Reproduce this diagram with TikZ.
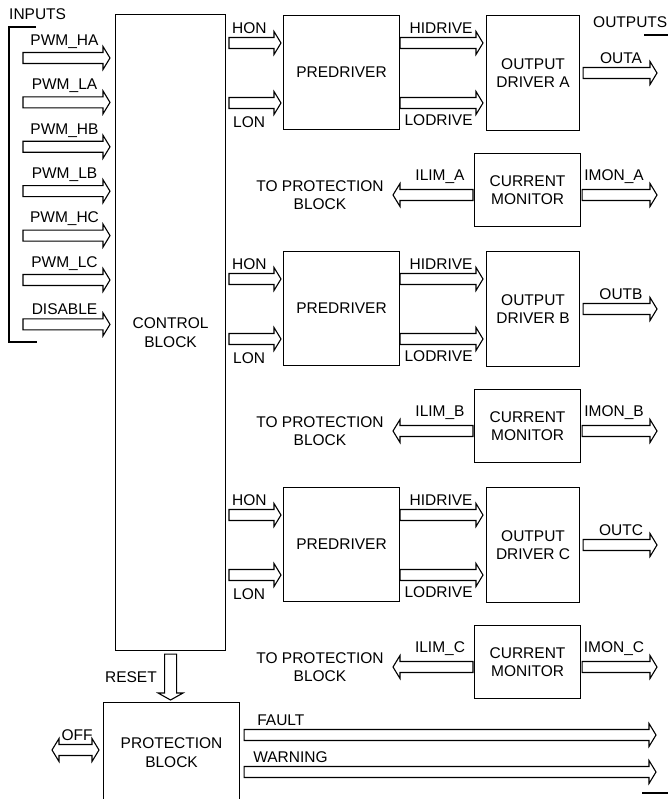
\documentclass[tikz,border=0pt]{standalone}
\usepackage{fontspec}
\setmainfont{Liberation Sans}
\usetikzlibrary{positioning,calc}

% hollow block arrows
\newcommand{\fatright}[2]{%
  \draw[fatline] let \p1=(#1), \p2=(#2) in
    (\x1,\y1+5.5pt) -- (\x2-7pt,\y1+5.5pt) -- (\x2-7pt,\y1+11.5pt) -- (\x2,\y1)
    -- (\x2-7pt,\y1-11.5pt) -- (\x2-7pt,\y1-5.5pt) -- (\x1,\y1-5.5pt) -- cycle;}
\newcommand{\fatleft}[2]{%
  \draw[fatline] let \p1=(#1), \p2=(#2) in
    (\x2,\y1+5.5pt) -- (\x1+7pt,\y1+5.5pt) -- (\x1+7pt,\y1+11.5pt) -- (\x1,\y1)
    -- (\x1+7pt,\y1-11.5pt) -- (\x1+7pt,\y1-5.5pt) -- (\x2,\y1-5.5pt) -- cycle;}
\newcommand{\fatboth}[2]{%
  \draw[fatline] let \p1=(#1), \p2=(#2) in
    (\x1,\y1) -- (\x1+7pt,\y1+11.5pt) -- (\x1+7pt,\y1+5.5pt) -- (\x2-7pt,\y1+5.5pt)
    -- (\x2-7pt,\y1+11.5pt) -- (\x2,\y1) -- (\x2-7pt,\y1-11.5pt) -- (\x2-7pt,\y1-5.5pt)
    -- (\x1+7pt,\y1-5.5pt) -- (\x1+7pt,\y1-11.5pt) -- cycle;}
\newcommand{\fatdown}[2]{%
  \draw[fatline] let \p1=(#1), \p2=(#2) in
    (\x1-6pt,\y1) -- (\x1-6pt,\y2+7pt) -- (\x1-12.5pt,\y2+7pt) -- (\x1,\y2)
    -- (\x1+12.5pt,\y2+7pt) -- (\x1+6pt,\y2+7pt) -- (\x1+6pt,\y1) -- cycle;}

\begin{document}
\begin{tikzpicture}[x=1pt,y=-1pt,
    every node/.style={font=\fontsize{15.5}{18.5}\selectfont},
    blk/.style={draw=black, line width=1.1pt, rectangle, inner sep=0pt, align=center},
    lbl/.style={inner sep=0pt},
    fatline/.style={draw=black, line width=1.1pt, fill=white, line join=miter},
    brk/.style={draw=black, line width=1.1pt}]
    \useasboundingbox (0,0) rectangle (667,799);

    % Control block and inputs
    \node[blk, minimum width=110, minimum height=636, anchor=north west] (ctrl) at (115,14) {CONTROL\\BLOCK};
    \node[lbl, anchor=base west] (inputs) at (9,20) {INPUTS};
    \draw[brk] (36,27) -- (9,27) -- (9,342) -- (37,342);
    \foreach \lbl [count=\i from 0] in {PWM\_HA,PWM\_LA,PWM\_HB,PWM\_LB,PWM\_HC,PWM\_LC,DISABLE} {
        \coordinate (in\i) at (23,{58+44.4*\i});
        \fatright{in\i}{$(ctrl.west|-in\i)+(-5,0)$}
        \node[lbl, above=9.5pt of in\i, xshift=41.5pt] (inl\i) {\lbl};
    }

    % Outputs bracket
    \node[lbl, anchor=base west] (outputs) at (593,28) {OUTPUTS};
    \draw[brk] (644,35) -- (670,35);
    \draw[brk] (642,793) -- (670,793);

    % Three driver channels
    \foreach \s [count=\k from 0] in {A,B,C} {
        \pgfmathsetmacro{\o}{236*\k}
        \node[blk, minimum width=116, minimum height=114, anchor=north west] (pd\s) at (283,{15+\o}) {PREDRIVER};
        \node[blk, minimum width=93, minimum height=115, anchor=north west] (od\s) at (486,{15+\o}) {OUTPUT\\DRIVER \s};
        \node[blk, minimum width=106, minimum height=73, anchor=north west] (cm\s) at (474,{153+\o}) {CURRENT\\MONITOR};

        % control to predriver
        \coordinate (hon\s) at (229,{43+\o});
        \coordinate (lon\s) at (229,{103+\o});
        \fatright{hon\s}{$(pd\s.west|-hon\s)+(-2,0)$}
        \fatright{lon\s}{$(pd\s.west|-lon\s)+(-2,0)$}
        \node[lbl, above right=9.5pt and 3pt of hon\s] (honl\s) {HON};
        \node[lbl, below right=13pt and 4pt of lon\s] (lonl\s) {LON};

        % predriver to output driver
        \coordinate (hid\s) at (pd\s.east|-hon\s);
        \coordinate (lod\s) at (pd\s.east|-lon\s);
        \fatright{hid\s}{$(od\s.west|-hid\s)+(-3,0)$}
        \fatright{lod\s}{$(od\s.west|-lod\s)+(-3,0)$}
        \node[lbl, above=9.5pt of hid\s, xshift=41pt] (hidl\s) {HIDRIVE};
        \node[lbl, below=11pt of lod\s, xshift=38.5pt] (lodl\s) {LODRIVE};

        % output
        \coordinate (out\s) at (657,{73+\o});
        \fatright{$(od\s.east|-out\s)+(3,0)$}{out\s}
        \node[lbl, above=9.5pt of out\s, xshift=-36pt] (outl\s) {OUT\s};

        % current monitor
        \coordinate (ilim\s) at (393,{195+\o});
        \coordinate (imon\s) at (657,{195+\o});
        \fatleft{ilim\s}{$(cm\s.west|-ilim\s)+(-1,0)$}
        \fatright{$(cm\s.east|-imon\s)+(1,0)$}{imon\s}
        \node[lbl, above=11pt of ilim\s, xshift=47pt] (iliml\s) {ILIM\_\s};
        \node[lbl, above=11pt of imon\s, xshift=-43pt] (imonl\s) {IMON\_\s};
        \node[lbl, align=center] (tp\s) at (320,{195+\o}) {TO PROTECTION\\BLOCK};
    }

    % Protection block
    \node[blk, minimum width=136, minimum height=100, anchor=north west] (prot) at (103,702) {PROTECTION\\BLOCK};
    \fatdown{$(ctrl.south)+(0,3)$}{$(prot.north)+(0,-2)$}
    \node[lbl, anchor=east] (resetl) at (157,677) {RESET};

    \coordinate (offtip) at (52,750);
    \fatboth{offtip}{$(prot.west|-offtip)+(-4,0)$}
    \node[lbl, above=9.5pt of offtip, xshift=25pt] (offl) {OFF};

    \coordinate (faulttip) at (656,735);
    \coordinate (warntip) at (656,772);
    \coordinate (faultst) at ($(prot.east|-faulttip)+(4,0)$);
    \coordinate (warnst) at ($(prot.east|-warntip)+(4,0)$);
    \fatright{faultst}{faulttip}
    \fatright{warnst}{warntip}
    \node[lbl, above right=9.5pt and 13pt of faultst] (faultl) {FAULT};
    \node[lbl, above right=9.5pt and 9pt of warnst] (warnl) {WARNING};
\end{tikzpicture}
\end{document}
